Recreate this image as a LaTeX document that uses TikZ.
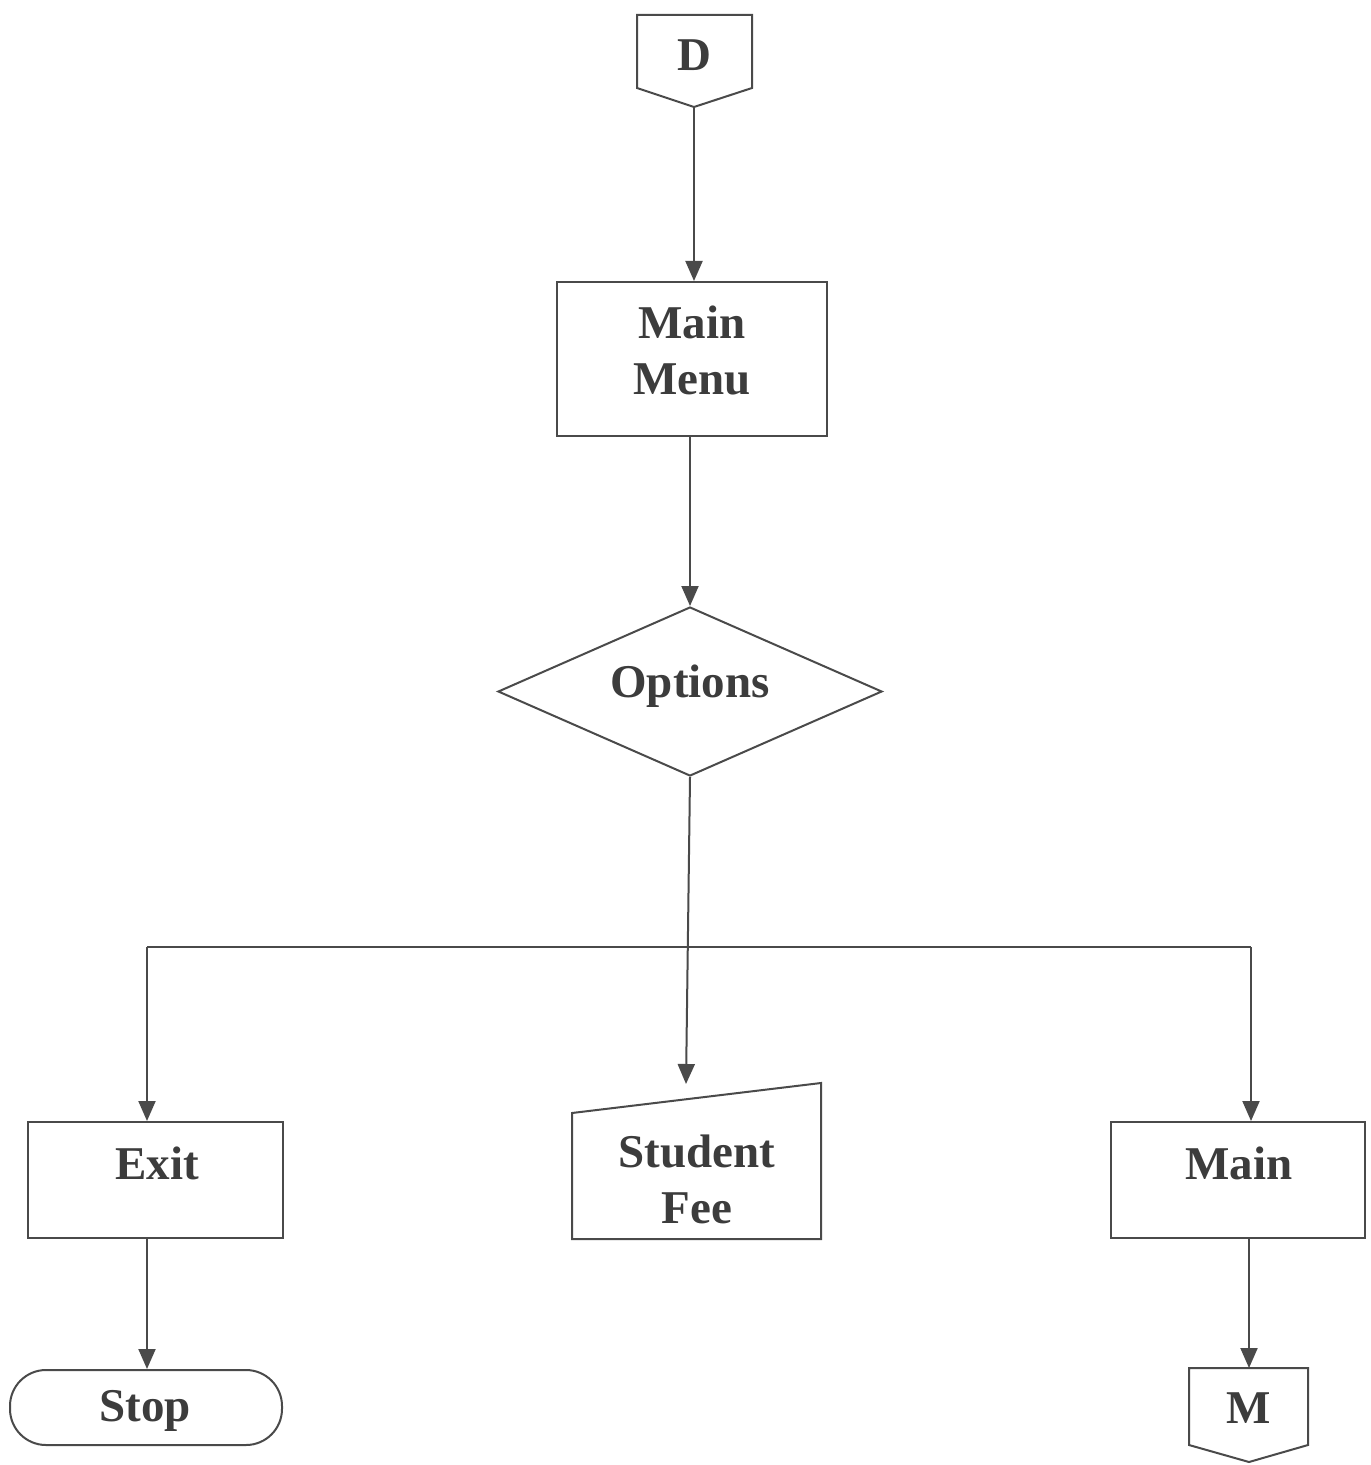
\documentclass[tikz,border=0pt]{standalone}
\usepackage{fontspec}
\setmainfont{Liberation Serif}
\usetikzlibrary{arrows.meta,shapes.geometric}
\definecolor{ink}{HTML}{4A4A4A}
\definecolor{txt}{HTML}{3C3C3C}
\begin{document}
\begin{tikzpicture}[x=0.5pt,y=-0.5pt,
  line/.style={draw=ink,line width=1pt},
  arr/.style={line,-{Triangle[length=10pt,width=8.5pt]}},
  lbl/.style={text=txt,font=\fontsize{23.5}{28}\selectfont\bfseries,align=center,inner sep=0pt},
]
\useasboundingbox (0,0) rectangle (1370,1465);
% D connector
\draw[line] (637,15) -- (752,15) -- (752,88) -- (694,107) -- (637,88) -- cycle;
\node[lbl] (D) at (694,55) {D};
\coordinate (Dbot) at (694,107);
% Main Menu
\node[draw=ink,line width=1pt,rectangle,minimum width=135pt,minimum height=77pt,inner sep=0pt] (menu) at (692,359) {};
\node[lbl] (menutext) at (692,350) {Main\\Menu};
% Options
\node[draw=ink,line width=1pt,diamond,minimum width=192pt,minimum height=84.5pt,inner sep=0pt,aspect=2.27] (opt) at (690,691.5) {};
\node[lbl] (opttext) at (690,686) {Options};
% Exit
\node[draw=ink,line width=1pt,rectangle,minimum width=127.5pt,minimum height=58pt,inner sep=0pt] (exit) at (155.5,1180) {};
\node[lbl] (exittext) at (157,1163) {Exit};
% Student Fee
\draw[line] (572,1239) -- (821,1239) -- (821,1083) -- (572,1113) -- cycle;
\coordinate (fee) at (686,1084);
\node[lbl] (feetext) at (697,1179) {Student\\Fee};
% Main
\node[draw=ink,line width=1pt,rectangle,minimum width=127pt,minimum height=58pt,inner sep=0pt] (main) at (1238,1180) {};
\node[lbl] (maintext) at (1239,1163) {Main};
% Stop
\node[draw=ink,line width=1pt,rectangle,rounded corners=18pt,minimum width=136pt,minimum height=37.5pt,inner sep=0pt] (stop) at (146,1407.5) {};
\node[lbl] (stoptext) at (145,1411) {Stop};
% M connector
\draw[line] (1189,1368) -- (1308,1368) -- (1308,1445) -- (1249,1462) -- (1189,1445) -- cycle;
\coordinate (Mtop) at (1249,1368);
\node[lbl] (M) at (1249,1408) {M};
% connectors
\coordinate (lsplit) at (147,947);
\coordinate (rsplit) at (1251,947);
\draw[arr] (Dbot) -- (menu.north -| Dbot);
\draw[arr] (menu.south -| opt.north) -- (opt.north);
\draw[arr] (opt.south) -- (fee);
\draw[line] (lsplit) -- (rsplit);
\draw[arr] (lsplit) -- (lsplit |- exit.north);
\draw[arr] (rsplit) -- (rsplit |- main.north);
\draw[arr] (exit.south -| lsplit) -- (stop.north -| lsplit);
\draw[arr] (main.south -| Mtop) -- (Mtop);
\end{tikzpicture}
\end{document}
